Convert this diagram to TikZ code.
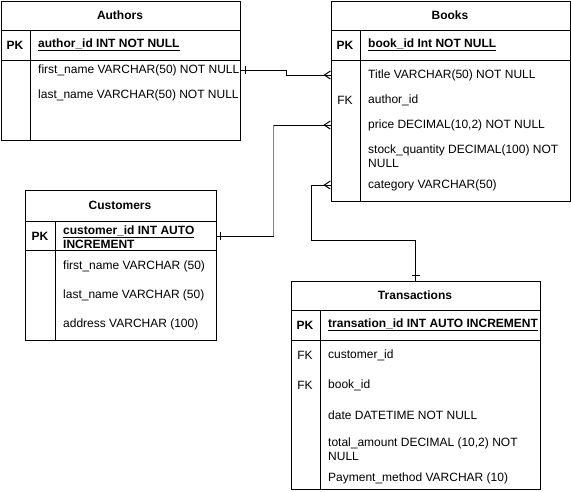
\documentclass[tikz,border=0pt]{standalone}
\usepackage{fontspec}
\setmainfont{Liberation Sans}
\usetikzlibrary{decorations.markings}

\begin{document}
\begin{tikzpicture}[
    x=1pt, y=-1pt,
    entity/.style={
        draw,
        line width=1pt,
        anchor=north west,
        inner sep=0pt
    },
    heading/.style={
        font=\fontsize{12}{14}\selectfont\bfseries
    },
    tag/.style={
        font=\fontsize{12}{14}\selectfont
    },
    pktag/.style={
        font=\fontsize{12}{14}\selectfont\bfseries
    },
    field/.style={
        anchor=west,
        align=left,
        inner sep=0pt,
        font=\fontsize{12}{14}\selectfont
    },
    pkfield/.style={
        field,
        font=\fontsize{12}{14}\selectfont\bfseries
    },
    rule/.style={
        line width=1pt
    },
    rel/.style={
        line width=1pt
    },
    one start/.style={postaction={decorate, decoration={markings,
        mark=at position 4pt with {\draw[line width=1pt] (0pt,-4pt) -- (0pt,4pt);}}}},
    one end/.style={postaction={decorate, decoration={markings,
        mark=at position -5pt with {\draw[line width=1pt] (0pt,-4pt) -- (0pt,4pt);}}}},
    many start/.style={postaction={decorate, decoration={markings,
        mark=at position 0.001 with {\draw[line width=1pt] (0pt,-4pt) -- (6pt,0pt) -- (0pt,4pt);}}}},
    many end/.style={postaction={decorate, decoration={markings,
        mark=at position 0.999 with {\draw[line width=1pt] (0pt,-4pt) -- (-6pt,0pt) -- (0pt,4pt);}}}}
]
\useasboundingbox (0,0) rectangle (571,491);

% Authors
\node[entity, minimum width=239.5pt, minimum height=139pt] (authors) at (0.5,0.5) {};
\draw[rule] ([yshift=-29.5pt]authors.north west) -- ([yshift=-29.5pt]authors.north east);
\draw[rule] ([yshift=-60pt]authors.north west) -- ([yshift=-60pt]authors.north east);
\draw[rule] ([xshift=30pt,yshift=-29.5pt]authors.north west) -- ([xshift=30pt]authors.south west);
\node[heading] (aHead) at (120,15) {Authors};
\node[pktag] (aPk) at (15,45) {PK};
\node[pkfield] (aKey) at (38,45) {\underline{author\_id INT NOT NULL}};
\node[field] (aFirst) at (38,70) {first\_name VARCHAR(50) NOT NULL};
\node[field] (aLast) at (38,95) {last\_name VARCHAR(50) NOT NULL};

% Books
\node[entity, minimum width=239.5pt, minimum height=200pt] (books) at (330.5,0.5) {};
\draw[rule] ([yshift=-29.5pt]books.north west) -- ([yshift=-29.5pt]books.north east);
\draw[rule] ([yshift=-60pt]books.north west) -- ([yshift=-60pt]books.north east);
\draw[rule] ([xshift=30pt,yshift=-29.5pt]books.north west) -- ([xshift=30pt]books.south west);
\node[heading] (bHead) at (450,15) {Books};
\node[pktag] (bPk) at (345,45) {PK};
\node[pkfield] (bKey) at (368,45) {\underline{book\_id Int NOT NULL}};
\node[field] (bTitle) at (368,75) {Title VARCHAR(50) NOT NULL};
\node[tag] (bFk) at (345,100) {FK};
\node[field] (bAuthor) at (368,100) {author\_id};
\node[field] (bPrice) at (368,125) {price DECIMAL(10,2) NOT NULL};
\node[field] (bStock) at (368,156) {stock\_quantity DECIMAL(100) NOT\\NULL};
\node[field] (bCat) at (368,185) {category VARCHAR(50)};

% Customers
\node[entity, minimum width=190.5pt, minimum height=150pt] (customers) at (25,190) {};
\draw[rule] ([yshift=-31.5pt]customers.north west) -- ([yshift=-31.5pt]customers.north east);
\draw[rule] ([yshift=-60pt]customers.north west) -- ([yshift=-60pt]customers.north east);
\draw[rule] ([xshift=30.5pt,yshift=-31.5pt]customers.north west) -- ([xshift=30.5pt]customers.south west);
\node[heading] (cHead) at (120,205) {Customers};
\node[pktag] (cPk) at (40,236) {PK};
\node[pkfield] (cKey) at (63,237) {\underline{customer\_id INT AUTO}\\INCREMENT};
\node[field] (cFirst) at (63,266) {first\_name VARCHAR (50)};
\node[field] (cLast) at (63,295) {last\_name VARCHAR (50)};
\node[field] (cAddr) at (63,324) {address VARCHAR (100)};

% Transactions
\node[entity, minimum width=249.5pt, minimum height=208.5pt] (transactions) at (290.5,280.5) {};
\draw[rule] ([yshift=-29.5pt]transactions.north west) -- ([yshift=-29.5pt]transactions.north east);
\draw[rule] ([yshift=-60pt]transactions.north west) -- ([yshift=-60pt]transactions.north east);
\draw[rule] ([xshift=30pt,yshift=-29.5pt]transactions.north west) -- ([xshift=30pt]transactions.south west);
\node[heading] (tHead) at (415,295) {Transactions};
\node[pktag] (tPk) at (305,325) {PK};
\node[pkfield] (tKey) at (328,325) {\underline{transation\_id INT AUTO INCREMENT}};
\node[tag] (tFk1) at (305,355) {FK};
\node[field] (tCust) at (328,355) {customer\_id};
\node[tag] (tFk2) at (305,385) {FK};
\node[field] (tBook) at (328,385) {book\_id};
\node[field] (tDate) at (328,415) {date DATETIME NOT NULL};
\node[field] (tTotal) at (328,449) {total\_amount DECIMAL (10,2) NOT\\NULL};
\node[field] (tPay) at (328,478) {Payment\_method VARCHAR (10)};

% Relations
\draw[rel, one start, many end] (authors.east |- aFirst) -- ++(45,0) |- (books.west |- bTitle);

\draw[rel, one start, many end] (customers.east |- cPk) -- ++(57,0) coordinate (custBend) |- (books.west |- bPrice);
\draw[rel, gray] (custBend) -- (custBend |- bPrice);

\draw[rel, many start, one end] (books.west |- bCat) -- ++(-19,0) -- ++(0,55) -| (transactions.north);

\end{tikzpicture}
\end{document}
